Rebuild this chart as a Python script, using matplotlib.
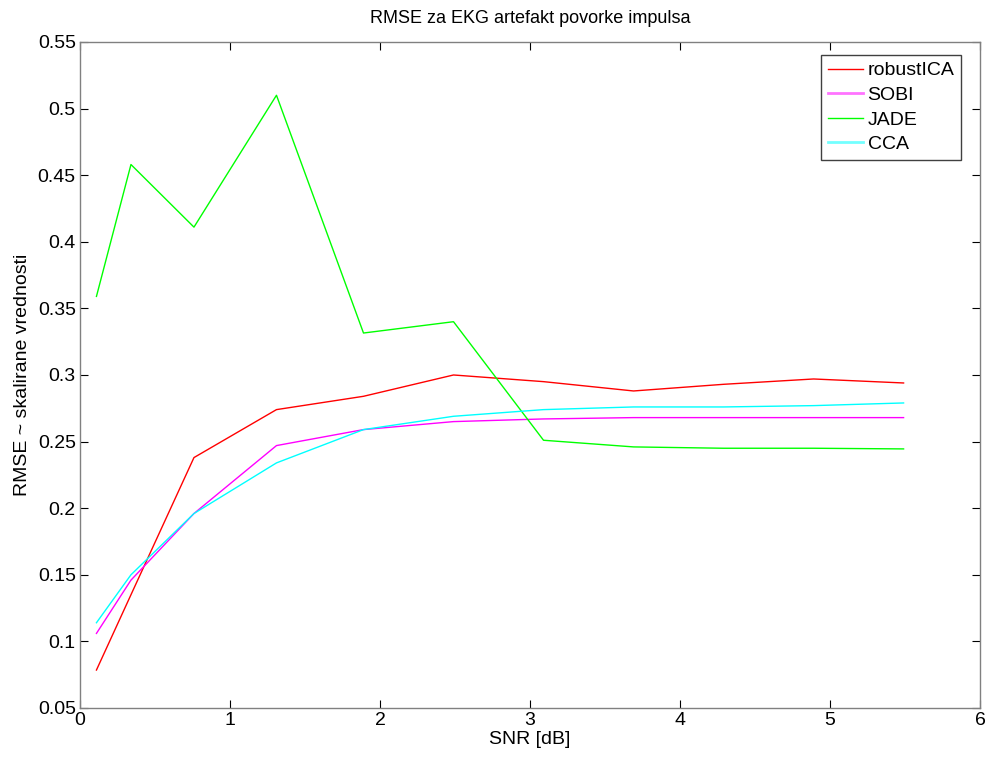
import matplotlib
matplotlib.use("Agg")
import matplotlib.pyplot as plt

plt.rcParams['font.family'] = ['Liberation Sans', 'DejaVu Sans']

snr = [0.11, 0.34, 0.76, 1.31, 1.89, 2.49, 3.09, 3.69, 4.29, 4.89, 5.49]
robustica = [0.0785, 0.135, 0.238, 0.274, 0.284, 0.300, 0.295, 0.288, 0.293, 0.297, 0.294]
sobi = [0.106, 0.146, 0.196, 0.247, 0.259, 0.265, 0.267, 0.268, 0.268, 0.268, 0.268]
jade = [0.359, 0.458, 0.411, 0.510, 0.3315, 0.340, 0.251, 0.246, 0.245, 0.245, 0.2445]
cca = [0.114, 0.150, 0.196, 0.234, 0.259, 0.269, 0.274, 0.276, 0.276, 0.277, 0.279]

series = [("robustICA", robustica, "#ff0000"),
          ("SOBI", sobi, "#ff00ff"),
          ("JADE", jade, "#00ff00"),
          ("CCA", cca, "#00ffff")]

xticks = [0, 1, 2, 3, 4, 5, 6]
yticks = [0.05, 0.1, 0.15, 0.2, 0.25, 0.3, 0.35, 0.4, 0.45, 0.5, 0.55]
yticklabels = ["0.05", "0.1", "0.15", "0.2", "0.25", "0.3", "0.35", "0.4", "0.45", "0.5", "0.55"]

fig = plt.figure(figsize=(9.87, 7.59), dpi=100)
ax = fig.add_axes([0.081, 0.0672, 0.912, 0.8775])

for name, vals, col in series:
    ax.plot(snr, vals, color=col, lw=1.0, label=name)

ax.set_xlim(0, 6)
ax.set_ylim(0.05, 0.55)
ax.set_xticks(xticks)
ax.set_xticklabels([str(t) for t in xticks])
ax.set_yticks(yticks)
ax.set_yticklabels(yticklabels)
ax.tick_params(direction='in', top=True, right=True, labelsize=14, length=6, color='black')
ax.tick_params(axis='y', pad=3)
ax.tick_params(axis='x', pad=3)
for s in ax.spines.values():
    s.set_color('#808080')
    s.set_linewidth(1.0)

ax.set_title("RMSE za EKG artefakt povorke impulsa", fontsize=13, pad=14)
ax.set_xlabel("SNR [dB]", fontsize=14, labelpad=1)
ax.set_ylabel("RMSE ~ skalirane vrednosti", fontsize=14, labelpad=5)

leg = ax.legend(loc='upper right', bbox_to_anchor=(0.979, 0.9805), fontsize=14,
                fancybox=False, framealpha=1, edgecolor='#404040',
                handlelength=1.8, borderaxespad=0.0,
                labelspacing=0.36, handletextpad=0.25, borderpad=0.35)
leg.get_frame().set_linewidth(1.0)
for h, (name, vals, col) in zip(leg.get_lines(), series):
    if name in ("SOBI", "CCA"):
        h.set_linewidth(2.0)
        h.set_alpha(0.55)

fig.savefig("out.png", dpi=100)
